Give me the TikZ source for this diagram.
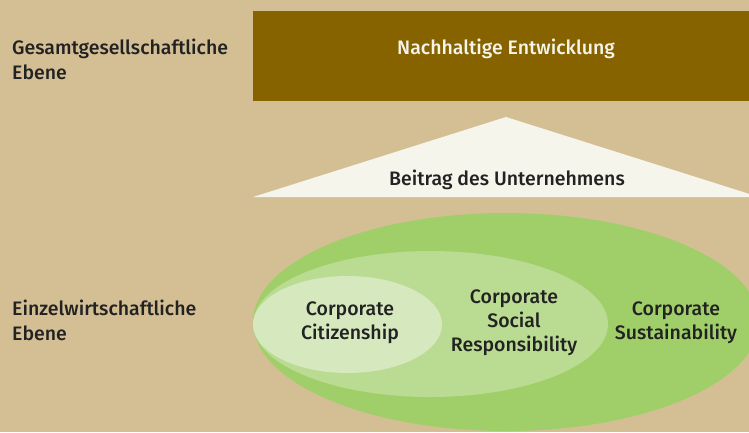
\documentclass[tikz,border=0pt]{standalone}
\usepackage{fontspec}
\setmainfont{Fira Sans Medium}
\definecolor{bg}{HTML}{D4BF94}
\definecolor{brownbar}{HTML}{876300}
\definecolor{tri}{HTML}{F5F5EB}
\definecolor{gbig}{HTML}{A0CF69}
\definecolor{gmid}{HTML}{BADB92}
\definecolor{gsmall}{HTML}{D5E8BE}
\definecolor{ink}{HTML}{222222}
\begin{document}
\begin{tikzpicture}[x=1pt,y=-1pt,
  lbl/.style={font=\fontsize{19.5}{24.5}\selectfont, text=ink, align=left, anchor=north west, inner sep=0pt},
  ctr/.style={font=\fontsize{19.5}{24}\selectfont, text=ink, align=center, inner sep=0pt}]
\useasboundingbox (0,0) rectangle (749,432);
\fill[bg] (0,0) rectangle (749,432);
\begin{scope}
\clip (0,0) rectangle (749,432);
\fill[brownbar] (253,11) rectangle (749,101);
\fill[tri] (253,197) -- (506,117) -- (759,197) -- cycle;
\fill[gbig] (506,322) ellipse [x radius=253pt, y radius=109pt];
\fill[gmid] (430.5,324) ellipse [x radius=177.5pt, y radius=73pt];
\fill[gsmall] (347.5,324.5) ellipse [x radius=94.5pt, y radius=48.5pt];
\end{scope}
\node[ctr, text=tri] (ne) at (506,49) {Nachhaltige Entwicklung};
\node[ctr] (bu) at (507,180) {Beitrag des Unternehmens};
\node[ctr] (cc) at (350,323) {Corporate\\Citizenship};
\node[ctr] (csr) at (514,323) {Corporate\\Social\\Responsibility};
\node[ctr] (cs) at (676,323) {Corporate\\Sustainability};
\node[lbl] (ge) at (12,39) {Gesamtgesellschaftliche\\Ebene};
\node[lbl] (ee) at (12,300) {Einzelwirtschaftliche\\Ebene};
\end{tikzpicture}
\end{document}
